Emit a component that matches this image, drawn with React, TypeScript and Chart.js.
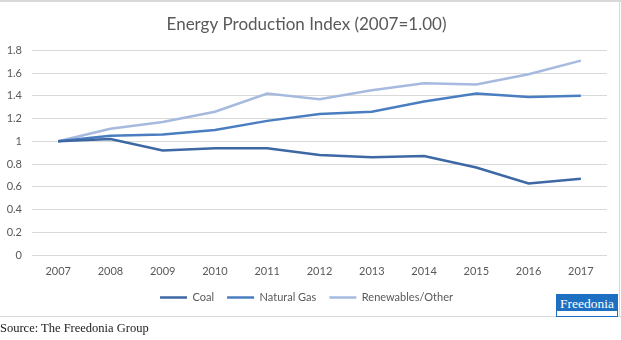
import React, { useEffect, useRef } from 'react';
import { Chart, registerables } from 'chart.js';

Chart.register(...registerables);

const years = ['2007', '2008', '2009', '2010', '2011', '2012', '2013', '2014', '2015', '2016', '2017'];
const coal = [1.0, 1.02, 0.92, 0.94, 0.94, 0.88, 0.86, 0.87, 0.77, 0.63, 0.67];
const naturalGas = [1.0, 1.05, 1.06, 1.1, 1.18, 1.24, 1.26, 1.35, 1.42, 1.39, 1.4];
const renewables = [1.0, 1.11, 1.17, 1.26, 1.42, 1.37, 1.45, 1.51, 1.5, 1.59, 1.71];
const seriesNames = ['Coal', 'Natural Gas', 'Renewables/Other'];
const titleText = 'Energy Production Index (2007=1.00)';
const sourceText = 'Source: The Freedonia Group';
const logoText = 'Freedonia';

const COLORS = ['#3d68a4', '#4a7ec1', '#a6badf'];
const FONT = 'Lato, "Open Sans", sans-serif';
const TEXT = '#595959';
const GRID = '#d9d9d9';

export default function App() {
  const ref = useRef<HTMLCanvasElement>(null);

  useEffect(() => {
    const series = [coal, naturalGas, renewables];
    const chart = new Chart(ref.current!, {
      type: 'line',
      data: {
        labels: years,
        datasets: series.map((d, i) => ({
          label: seriesNames[i],
          data: d,
          borderColor: COLORS[i],
          backgroundColor: COLORS[i],
          borderWidth: 2.5,
          pointRadius: 0,
          tension: 0,
          fill: false,
        })),
      },
      options: {
        animation: false,
        responsive: false,
        maintainAspectRatio: false,
        devicePixelRatio: 1,
        layout: { padding: { left: 6, right: 14, top: 0, bottom: 4 } },
        plugins: {
          title: {
            display: true,
            text: titleText,
            color: TEXT,
            font: { family: FONT, size: 17, weight: 'normal' },
            padding: { top: 14, bottom: 16 },
          },
          legend: {
            position: 'bottom',
            labels: {
              usePointStyle: true,
              pointStyle: 'line',
              pointStyleWidth: 27,
              color: TEXT,
              font: { family: FONT, size: 11 },
              padding: 13,
            },
          },
          tooltip: { enabled: false },
        },
        scales: {
          x: {
            offset: true,
            grid: { display: false, drawTicks: false },
            border: { display: false },
            ticks: { color: TEXT, font: { family: FONT, size: 11 }, padding: 10, maxRotation: 0 },
            afterFit: (s: any) => {
              s.height = 24;
            },
          },
          y: {
            min: 0,
            max: 1.8,
            grid: { color: GRID, drawTicks: false },
            border: { display: false },
            ticks: {
              stepSize: 0.2,
              padding: 10,
              color: TEXT,
              font: { family: FONT, size: 11 },
              callback: (v: any) => String(Math.round(Number(v) * 10) / 10),
            },
            afterFit: (s: any) => {
              s.width = 26;
            },
          },
        },
      },
    } as any);
    return () => chart.destroy();
  }, []);

  return (
    <div style={{ position: 'absolute', left: 0, top: 0, width: 621, height: 340, background: '#fff', overflow: 'hidden' }}>
      <canvas ref={ref} width={621} height={317} style={{ position: 'absolute', left: 0, top: 0, width: 621, height: 317 }} />
      <div style={{ position: 'absolute', left: 0, top: 0, width: 621, height: 2, background: GRID }} />
      <div style={{ position: 'absolute', left: 619, top: 0, width: 1, height: 317, background: GRID }} />
      <div style={{ position: 'absolute', left: 0, top: 316, width: 621, height: 1, background: GRID }} />
      <div
        style={{
          position: 'absolute',
          left: 556,
          top: 294,
          width: 60,
          height: 21,
          border: '1px solid #1d6fc2',
          background: '#fff',
        }}
      >
        <div
          style={{
            height: 16,
            background: '#1d6fc2',
            color: '#fff',
            fontFamily: '"Liberation Serif", serif',
            fontSize: 13.5,
            lineHeight: '18px',
            textAlign: 'center',
            overflow: 'visible',
            whiteSpace: 'nowrap',
          }}
        >
          {logoText}
        </div>
      </div>
      <div
        style={{
          position: 'absolute',
          left: 0,
          top: 320,
          fontFamily: '"Liberation Serif", serif',
          fontSize: 12.5,
          lineHeight: '16px',
          color: '#1a1a1a',
          whiteSpace: 'nowrap',
        }}
      >
        {sourceText}
      </div>
    </div>
  );
}
